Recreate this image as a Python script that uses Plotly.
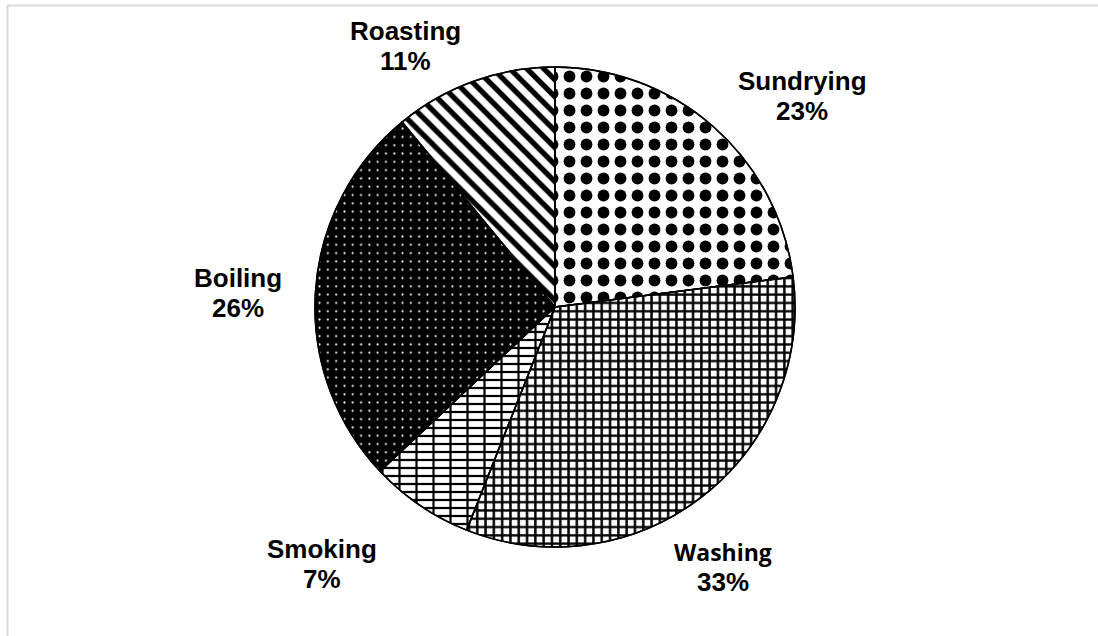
import plotly.graph_objects as go

# ---- data ----
categories = ["Sundrying", "Washing", "Smoking", "Boiling", "Roasting"]
values = [23, 33, 7, 26, 11]

W, H = 1098, 636
total = sum(values)
pct = [f"{round(v / total * 100)}%" for v in values]

# pie geometry (pixels)
cx, cy, r = 555, 307, 240

def px(x):
    return x / W

def py(y):
    return 1 - y / H

shapes_ = [".", "+", "-", ".", "\\"]
bg = ["white", "white", "white", "black", "white"]
fg = ["black", "black", "black", "white", "black"]
sizes = [17, 8.3, 8, 8.3, 12]
solid = [0.38, 0.5, 0.28, 0.05, 0.45]

dom = dict(x=[px(cx - r), px(cx + r)], y=[py(cy + r), py(cy - r)])

fig = go.Figure()
fig.add_trace(go.Pie(
    labels=categories, values=values, sort=False, direction="clockwise", rotation=0,
    textinfo="none", hoverinfo="label+percent", showlegend=False, domain=dom,
    marker=dict(
        colors=bg,
        line=dict(color="black", width=1.5),
        pattern=dict(shape=shapes_, bgcolor=bg, fgcolor=fg, size=sizes, solidity=solid, fillmode="replace"),
    ),
))
# vertical joints of the brick pattern on Smoking
fig.add_trace(go.Pie(
    labels=categories, values=values, sort=False, direction="clockwise", rotation=0,
    textinfo="none", hoverinfo="skip", showlegend=False, domain=dom,
    marker=dict(
        colors=["rgba(0,0,0,0)"] * 5,
        line=dict(color="black", width=1.5),
        pattern=dict(shape=["", "", "|", "", ""], bgcolor=["rgba(0,0,0,0)"] * 5,
                     fgcolor=["black"] * 5, size=[10, 10, 17, 10, 10],
                     solidity=[0.1, 0.1, 0.13, 0.1, 0.1], fillmode="replace"),
    ),
))

# label positions (pixel centres of name line, percent line)
label_pos = {
    "Sundrying": (802, 81, 111),
    "Washing": (723, 552, 582),
    "Smoking": (322, 549, 579),
    "Boiling": (238, 278, 308),
    "Roasting": (405, 31, 61),
}
ann = []
for c, p in zip(categories, pct):
    x, y1, y2 = label_pos[c]
    fam = "Open Sans" if c == "Washing" else "Liberation Sans"
    ann.append(dict(x=px(x), y=py(y1), xref="paper", yref="paper", text=f"<b>{c}</b>",
                    showarrow=False, xanchor="center", yanchor="middle",
                    font=dict(family=fam, size=26 if c != "Washing" else 23, color="black")))
    ann.append(dict(x=px(x), y=py(y2), xref="paper", yref="paper", text=f"<b>{p}</b>",
                    showarrow=False, xanchor="center", yanchor="middle",
                    font=dict(family="Liberation Sans", size=26, color="black")))

fig.update_layout(
    width=W, height=H, margin=dict(l=0, r=0, t=0, b=0),
    paper_bgcolor="white", plot_bgcolor="white",
    annotations=ann,
    shapes=[
        dict(type="line", xref="paper", yref="paper", x0=px(7), x1=1.01, y0=py(5.5), y1=py(5.5),
             line=dict(color="#d9d9d9", width=2)),
        dict(type="line", xref="paper", yref="paper", x0=px(7.5), x1=px(7.5), y0=py(5), y1=-0.01,
             line=dict(color="#d9d9d9", width=2)),
    ],
)
fig.write_html("out.html", config={"displayModeBar": False},
               post_script="document.body.style.margin='0px';document.body.style.overflow='hidden';")
